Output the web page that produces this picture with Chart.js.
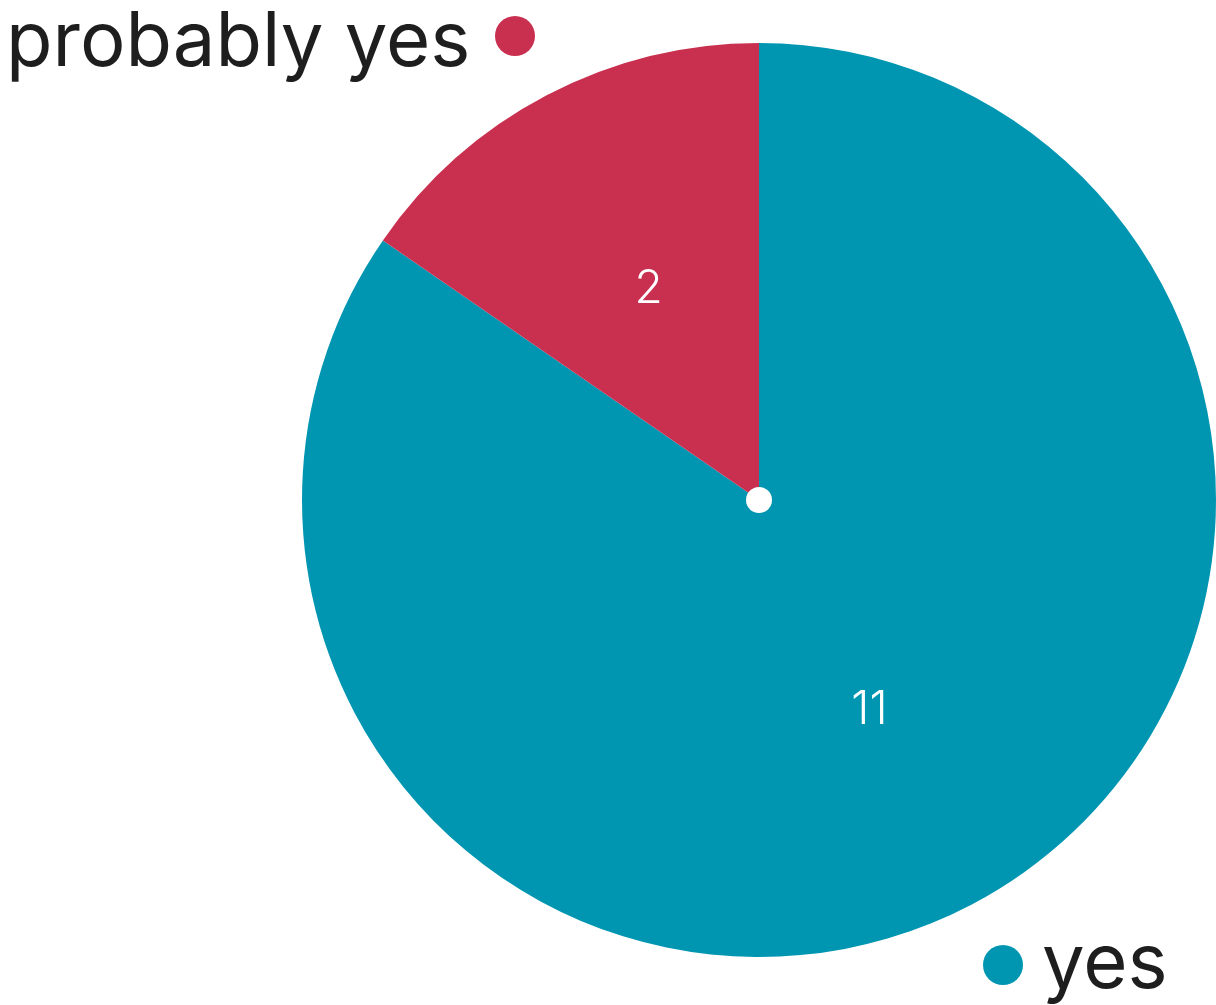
<!DOCTYPE html>
<html>
<head>
<meta charset="utf-8">
<script src="https://cdn.jsdelivr.net/npm/chart.js@4.4.0/dist/chart.umd.min.js"></script>
<style>
  html, body { margin: 0; padding: 0; background: #ffffff; }
  #wrap { width: 1216px; height: 1005px; position: relative; }
</style>
</head>
<body>
<div id="wrap"><canvas id="c" width="1216" height="1005"></canvas></div>
<script>
const categories = ["yes", "probably yes"];
const values = [11, 2];
const colors = ["#0096b1", "#c93050"];

const FONT = "Inter, 'Open Sans', sans-serif";

const labelsPlugin = {
  id: 'customLabels',
  afterDatasetsDraw(chart) {
    const ctx = chart.ctx;
    const meta = chart.getDatasetMeta(0);
    ctx.save();
    // inner value labels
    meta.data.forEach((arc, i) => {
      const mid = (arc.startAngle + arc.endAngle) / 2;
      const r = arc.outerRadius * 0.52;
      const x = arc.x + Math.cos(mid) * r;
      const y = arc.y + Math.sin(mid) * r;
      ctx.fillStyle = '#ffffff';
      ctx.font = "300 46px " + FONT;
      ctx.textAlign = 'center';
      ctx.textBaseline = 'middle';
      ctx.fillText(String(values[i]), x, y);
    });
    // center dot
    const a0 = meta.data[0];
    ctx.beginPath();
    ctx.arc(a0.x, a0.y, 13, 0, Math.PI * 2);
    ctx.fillStyle = '#ffffff';
    ctx.fill();

    // outside labels
    ctx.font = "400 76px " + FONT;
    ctx.fillStyle = '#1e1e1e';
    ctx.textBaseline = 'alphabetic';
    // probably yes (top-left)
    ctx.textAlign = 'left';
    ctx.fillText(categories[1], 6, 66);
    ctx.beginPath();
    ctx.arc(515, 36, 20, 0, Math.PI * 2);
    ctx.fillStyle = colors[1];
    ctx.fill();
    // yes (bottom-right)
    ctx.beginPath();
    ctx.arc(1003, 965, 20, 0, Math.PI * 2);
    ctx.fillStyle = colors[0];
    ctx.fill();
    ctx.fillStyle = '#1e1e1e';
    ctx.fillText(categories[0], 1042, 988);
    ctx.restore();
  }
};

new Chart(document.getElementById('c'), {
  type: 'pie',
  data: {
    labels: categories,
    datasets: [{
      data: values,
      backgroundColor: colors,
      borderWidth: 0
    }]
  },
  options: {
    responsive: false,
    animation: false,
    layout: { padding: { left: 302, right: 0, top: 43, bottom: 48 } },
    plugins: {
      legend: { display: false },
      tooltip: { enabled: false }
    }
  },
  plugins: [labelsPlugin]
});
</script>
</body>
</html>
